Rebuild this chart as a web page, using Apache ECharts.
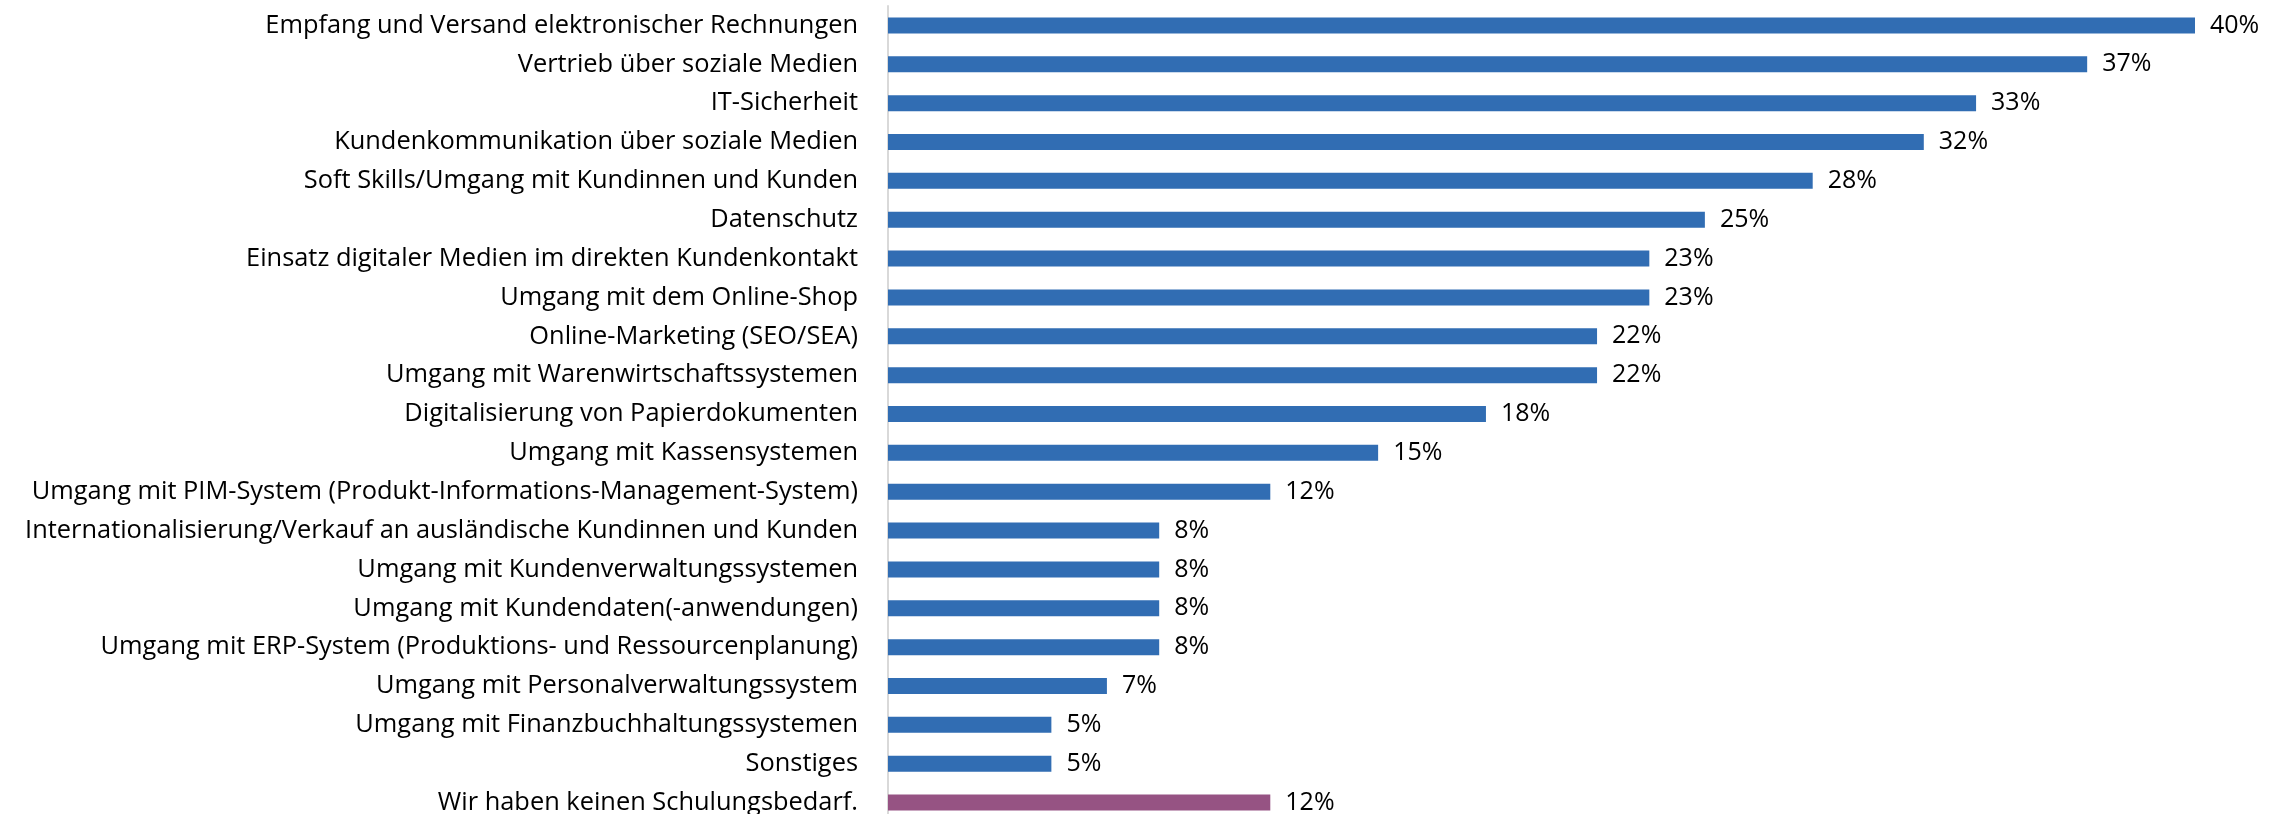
<!DOCTYPE html>
<html>
<head>
<meta charset="utf-8">
<script src="https://cdn.jsdelivr.net/npm/echarts@6/dist/echarts.min.js"></script>
<style>
  html, body { margin: 0; padding: 0; background: #fff; overflow: hidden; }
  #chart { width: 2287px; height: 840px; }
</style>
</head>
<body>
<div id="chart"></div>
<script>
// Schulungsbedarf, Anteil in Prozent (von oben nach unten)
const categories = [
  "Empfang und Versand elektronischer Rechnungen",
  "Vertrieb über soziale Medien",
  "IT-Sicherheit",
  "Kundenkommunikation über soziale Medien",
  "Soft Skills/Umgang mit Kundinnen und Kunden",
  "Datenschutz",
  "Einsatz digitaler Medien im direkten Kundenkontakt",
  "Umgang mit dem Online-Shop",
  "Online-Marketing (SEO/SEA)",
  "Umgang mit Warenwirtschaftssystemen",
  "Digitalisierung von Papierdokumenten",
  "Umgang mit Kassensystemen",
  "Umgang mit PIM-System (Produkt-Informations-Management-System)",
  "Internationalisierung/Verkauf an ausländische Kundinnen und Kunden",
  "Umgang mit Kundenverwaltungssystemen",
  "Umgang mit Kundendaten(-anwendungen)",
  "Umgang mit ERP-System (Produktions- und Ressourcenplanung)",
  "Umgang mit Personalverwaltungssystem",
  "Umgang mit Finanzbuchhaltungssystemen",
  "Sonstiges",
  "Wir haben keinen Schulungsbedarf."
];
const shares = [40, 36.7, 33.3, 31.7, 28.3, 25, 23.3, 23.3, 21.7, 21.7, 18.3, 15, 11.7, 8.3, 8.3, 8.3, 8.3, 6.7, 5, 5, 11.7];
const highlight = ["Wir haben keinen Schulungsbedarf."];

const blue = "#316db3";
const purple = "#965383";

const chart = echarts.init(document.getElementById("chart"));
chart.setOption({
  animation: false,
  backgroundColor: "#fff",
  // the last row is cut off at the bottom edge of the picture, so the grid runs past 814px
  grid: { left: 888, top: 6, width: 1307, height: 816 },
  xAxis: {
    type: "value",
    min: 0,
    max: 40,
    show: false
  },
  yAxis: {
    type: "category",
    inverse: true,
    data: categories,
    axisLine: { show: true, lineStyle: { color: "#d9d9d9", width: 2 } },
    axisTick: { show: false },
    axisLabel: {
      margin: 30,
      color: "#000",
      fontFamily: "Open Sans",
      fontSize: 25.4
    }
  },
  series: [
    {
      type: "bar",
      barWidth: 16,
      data: shares.map((v, i) => ({
        value: v,
        itemStyle: { color: highlight.includes(categories[i]) ? purple : blue }
      })),
      label: {
        show: true,
        position: "right",
        distance: 15,
        color: "#000",
        fontFamily: "Open Sans",
        fontSize: 25,
        formatter: (p) => Math.round(p.value) + "%"
      }
    }
  ]
});
</script>
</body>
</html>
